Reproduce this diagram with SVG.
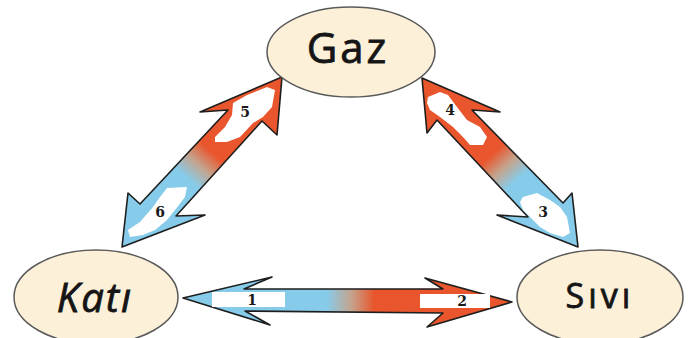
<svg xmlns="http://www.w3.org/2000/svg" width="695" height="338" viewBox="0 0 695 338">
<defs>
<style>
.node{fill:#FDF0D8;stroke:#5a5a5a;stroke-width:1.5}
.lbl{font-family:"Open Sans","DejaVu Sans",sans-serif;fill:#151515;stroke:#151515;stroke-width:0.8;text-anchor:middle}
.arr{stroke:#1e1e1e;stroke-width:1.6;stroke-linejoin:round}
.blob{fill:#ffffff;stroke:none}
.num{font-family:"DejaVu Serif","Liberation Serif",serif;font-weight:bold;font-size:14px;fill:#1a1a1a;text-anchor:middle}
</style>
<linearGradient id="gH" gradientUnits="userSpaceOnUse" x1="183" y1="0" x2="513" y2="0">
<stop offset="0" stop-color="#86CCEA"/>
<stop offset="0.435" stop-color="#86CCEA"/>
<stop offset="0.51" stop-color="#C4A48E"/>
<stop offset="0.58" stop-color="#E9552C"/>
<stop offset="1" stop-color="#E9552C"/>
</linearGradient>
<linearGradient id="gL" gradientUnits="userSpaceOnUse" x1="213" y1="153" x2="189" y2="180">
<stop offset="0" stop-color="#E9552C"/>
<stop offset="0.5" stop-color="#C4A48E"/>
<stop offset="1" stop-color="#86CCEA"/>
</linearGradient>
<linearGradient id="gR" gradientUnits="userSpaceOnUse" x1="489" y1="157" x2="513" y2="184">
<stop offset="0" stop-color="#E9552C"/>
<stop offset="0.5" stop-color="#C4A48E"/>
<stop offset="1" stop-color="#86CCEA"/>
</linearGradient>
</defs>
<rect width="695" height="338" fill="#ffffff"/>
<g id="connectors">
<g id="arrow-kati-sivi">
<polygon class="arr" fill="url(#gH)" points="183,298 272,277 244,289 443,289 425,278 512,302 427,327 443,313 245,311 270,325"/>
<rect class="blob" x="212" y="292" width="73" height="15"/>
<rect class="blob" x="420" y="294" width="70" height="14"/>
<text class="num" x="252" y="305">1</text>
<text class="num" x="462" y="306">2</text>
</g>
<g id="arrow-kati-gaz">
<polygon class="arr" fill="url(#gL)" points="282,77 277,135 262,121 176,216 205,215 122,247 128,193 140,204 228,110 200,112"/>
<path class="blob" d="M233,103 L247,95 L267,87 L275,90 L272,107 L263,117 L253,123 L240,137 L227,142 L215,142 L215,137 L225,127 L232,115 Z"/>
<path class="blob" d="M167,188 L187,187 L185,197 L175,210 L167,220 L155,230 L143,235 L130,237 L128,230 L140,222 L153,207 L160,197 Z"/>
<text class="num" x="245" y="117">5</text>
<text class="num" x="160" y="217">6</text>
</g>
<g id="arrow-gaz-sivi">
<polygon class="arr" fill="url(#gR)" points="422,78 500,112 472,110 563,203 572,193 578,247 497,215 528,217 437,120 427,133"/>
<path class="blob" d="M428,97 L440,92 L448,95 L457,107 L467,120 L480,127 L487,137 L483,145 L470,145 L463,137 L453,127 L440,117 L430,110 L427,103 Z"/>
<path class="blob" d="M523,197 L537,193 L550,200 L560,207 L567,217 L570,233 L563,237 L550,233 L540,227 L530,217 L523,210 L520,202 Z"/>
<text class="num" x="450" y="115">4</text>
<text class="num" x="543" y="217">3</text>
</g>
</g>
<g id="node-gaz">
<ellipse class="node" cx="351" cy="52" rx="84" ry="45"/>
<text class="lbl" x="348" y="63" font-size="42" letter-spacing="3">Gaz</text>
</g>
<g id="node-kati">
<ellipse class="node" cx="96" cy="297" rx="82" ry="47"/>
<text class="lbl" x="95" y="312" font-size="40" font-style="italic" letter-spacing="2">Katı</text>
</g>
<g id="node-sivi">
<ellipse class="node" cx="600" cy="297" rx="83" ry="47"/>
<text class="lbl" x="600" y="308" font-size="34" letter-spacing="4">Sıvı</text>
</g>
</svg>
